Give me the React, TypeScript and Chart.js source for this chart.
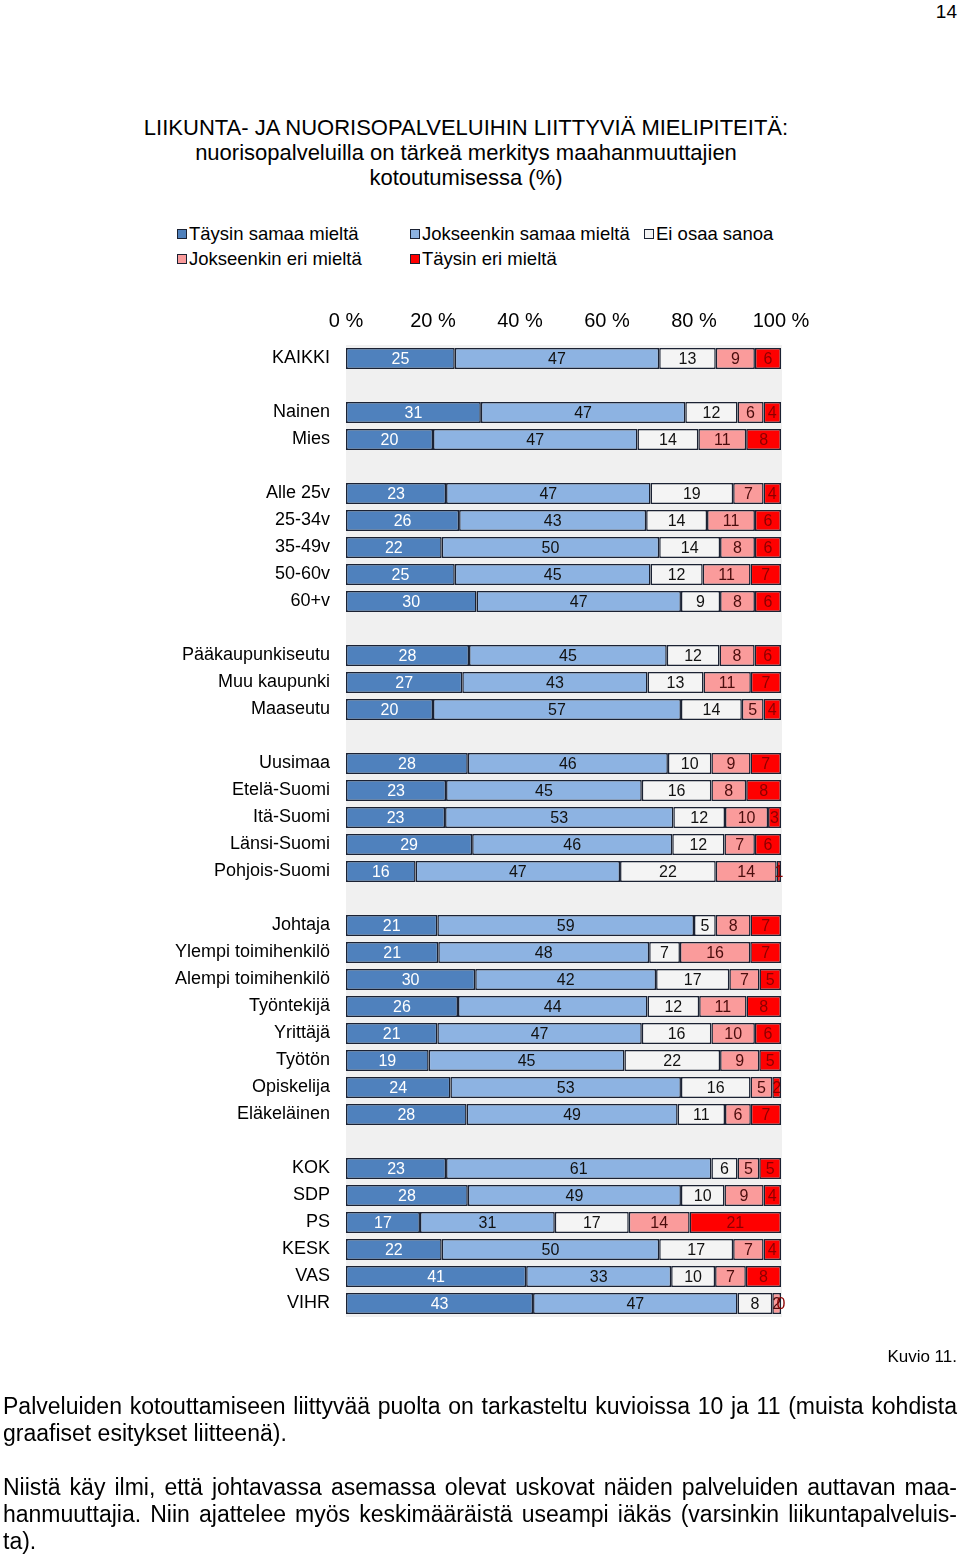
import React, { useEffect, useRef } from 'react';
import { Chart, registerables } from 'chart.js';

Chart.register(...registerables);

const categories = [
  'KAIKKI', '',
  'Nainen', 'Mies', '',
  'Alle 25v', '25-34v', '35-49v', '50-60v', '60+v', '',
  'Pääkaupunkiseutu', 'Muu kaupunki', 'Maaseutu', '',
  'Uusimaa', 'Etelä-Suomi', 'Itä-Suomi', 'Länsi-Suomi', 'Pohjois-Suomi', '',
  'Johtaja', 'Ylempi toimihenkilö', 'Alempi toimihenkilö', 'Työntekijä', 'Yrittäjä', 'Työtön', 'Opiskelija', 'Eläkeläinen', '',
  'KOK', 'SDP', 'PS', 'KESK', 'VAS', 'VIHR',
];

const seriesNames = ['Täysin samaa mieltä', 'Jokseenkin samaa mieltä', 'Ei osaa sanoa', 'Jokseenkin eri mieltä', 'Täysin eri mieltä'];

const taysinSamaa = [25, null, 31, 20, null, 23, 26, 22, 25, 30, null, 28, 27, 20, null, 28, 23, 23, 29, 16, null, 21, 21, 30, 26, 21, 19, 24, 28, null, 23, 28, 17, 22, 41, 43];
const jokseenkinSamaa = [47, null, 47, 47, null, 47, 43, 50, 45, 47, null, 45, 43, 57, null, 46, 45, 53, 46, 47, null, 59, 48, 42, 44, 47, 45, 53, 49, null, 61, 49, 31, 50, 33, 47];
const eiOsaa = [13, null, 12, 14, null, 19, 14, 14, 12, 9, null, 12, 13, 14, null, 10, 16, 12, 12, 22, null, 5, 7, 17, 12, 16, 22, 16, 11, null, 6, 10, 17, 17, 10, 8];
const jokseenkinEri = [9, null, 6, 11, null, 7, 11, 8, 11, 8, null, 8, 11, 5, null, 9, 8, 10, 7, 14, null, 8, 16, 7, 11, 10, 9, 5, 6, null, 5, 9, 14, 7, 7, 2];
const taysinEri = [6, null, 4, 8, null, 4, 6, 6, 7, 6, null, 6, 7, 4, null, 7, 8, 3, 6, 1, null, 7, 7, 5, 8, 6, 5, 2, 7, null, 5, 4, 21, 4, 8, 0];

const xTickValues = [0, 20, 40, 60, 80, 100];

const rawSeries = [taysinSamaa, jokseenkinSamaa, eiOsaa, jokseenkinEri, taysinEri];
const fillColors = ['#4f81bd', '#8db3e2', '#f4f4f4', '#fa9b9b', '#ff0000'];
const labelColors = ['#ffffff', '#111111', '#111111', '#4a0d0d', '#8c0000'];

const FONT = '"Liberation Sans", Arial, Helvetica, sans-serif';

const rowSums = categories.map((_, j) => rawSeries.reduce((s, arr) => s + (arr[j] ?? 0), 0));

const plotBg = {
  id: 'plotBg',
  beforeDraw(chart: any) {
    const { ctx, chartArea: a } = chart;
    ctx.save();
    ctx.fillStyle = '#f0f0f0';
    ctx.fillRect(a.left, a.top, a.right - a.left + 1, a.bottom - a.top);
    ctx.restore();
  },
};

const valueLabels = {
  id: 'valueLabels',
  afterDatasetsDraw(chart: any) {
    const ctx = chart.ctx;
    ctx.save();
    ctx.font = `16px ${FONT}`;
    ctx.textAlign = 'center';
    ctx.textBaseline = 'middle';
    chart.data.datasets.forEach((_ds: any, i: number) => {
      const meta = chart.getDatasetMeta(i);
      meta.data.forEach((el: any, j: number) => {
        const raw = rawSeries[i][j];
        if (raw == null) return;
        const { x, y, base } = el.getProps(['x', 'y', 'base'], true);
        ctx.fillStyle = labelColors[i];
        ctx.fillText(String(raw), (x + base) / 2, y + 1);
      });
    });
    ctx.restore();
  },
};

function StackedChart() {
  const ref = useRef<HTMLCanvasElement | null>(null);
  useEffect(() => {
    if (!ref.current) return;
    const chart = new Chart(ref.current, {
      type: 'bar',
      data: {
        labels: categories,
        datasets: rawSeries.map((arr, i) => ({
          label: seriesNames[i],
          data: arr.map((v, j) => (v == null ? null : (v * 100) / rowSums[j])),
          backgroundColor: fillColors[i],
          borderColor: '#1b2233',
          borderWidth: 1.5,
          borderSkipped: false,
          barPercentage: 0.78,
          categoryPercentage: 1,
        })),
      },
      options: {
        indexAxis: 'y',
        responsive: false,
        animation: false,
        layout: { padding: { top: 301, bottom: 237, left: 0, right: 179 } },
        plugins: { legend: { display: false }, tooltip: { enabled: false }, title: { display: false } },
        scales: {
          x: {
            position: 'top',
            stacked: true,
            min: 0,
            max: 100,
            grid: { display: false, drawTicks: false },
            border: { display: false },
            afterBuildTicks: (s: any) => {
              s.ticks = xTickValues.map((v) => ({ value: v }));
            },
            afterFit: (s: any) => {
              s.height = 44;
            },
            ticks: {
              padding: 12,
              color: '#000',
              font: { size: 20, family: FONT },
              callback: (v: any) => `${v} %`,
            },
          },
          y: {
            stacked: true,
            grid: { display: false, drawTicks: false },
            border: { display: false },
            afterFit: (s: any) => {
              s.width = 346;
            },
            ticks: {
              autoSkip: false,
              padding: 16,
              color: '#000',
              font: { size: 18, family: FONT },
            },
          },
        },
      },
      plugins: [plotBg, valueLabels],
    } as any);
    return () => chart.destroy();
  }, []);
  return (
    <canvas
      ref={ref}
      width={960}
      height={1554}
      style={{ position: 'absolute', left: 0, top: 0, width: 960, height: 1554 }}
    />
  );
}

const titleLines = [
  'LIIKUNTA- JA NUORISOPALVELUIHIN LIITTYVIÄ MIELIPITEITÄ:',
  'nuorisopalveluilla on tärkeä merkitys maahanmuuttajien',
  'kotoutumisessa (%)',
];

const legendLayout = [
  { series: 0, x: 177, y: 234 },
  { series: 1, x: 410, y: 234 },
  { series: 2, x: 644, y: 234 },
  { series: 3, x: 177, y: 259 },
  { series: 4, x: 410, y: 259 },
];

const paragraph1 = [
  'Palveluiden kotouttamiseen liittyvää puolta on tarkasteltu kuvioissa 10 ja 11 (muista kohdista',
  'graafiset esitykset liitteenä).',
];
const paragraph2 = [
  'Niistä käy ilmi, että johtavassa asemassa olevat uskovat näiden palveluiden auttavan maa-',
  'hanmuuttajia. Niin ajattelee myös keskimääräistä useampi iäkäs (varsinkin liikuntapalveluis-',
  'ta).',
];

function TextLine({ text, top, justify }: { text: string; top: number; justify: boolean }) {
  return (
    <div
      style={{
        position: 'absolute',
        left: 3,
        width: 954,
        top: top - 13.5,
        height: 27,
        lineHeight: '27px',
        fontSize: 23,
        fontFamily: FONT,
        color: '#000',
        whiteSpace: 'nowrap',
        textAlign: justify ? 'justify' : 'left',
        textAlignLast: justify ? 'justify' : 'left',
      } as any}
    >
      {text}
    </div>
  );
}

export default function App() {
  return (
    <div>
      <div
        style={{
          position: 'absolute', right: 3, top: 0, height: 24, lineHeight: '24px',
          fontSize: 19, fontFamily: FONT, color: '#000',
        }}
      >
        14
      </div>
      <div
        style={{
          position: 'absolute', left: 116, width: 700, top: 114.5, textAlign: 'center',
          fontSize: 22, lineHeight: '25px', fontFamily: FONT, color: '#000',
        }}
      >
        {titleLines.map((t, i) => (
          <div key={i}>{t}</div>
        ))}
      </div>
      {legendLayout.map((it) => (
        <div
          key={it.series}
          style={{
            position: 'absolute', left: it.x, top: it.y - 11, height: 22, lineHeight: '22px',
            fontSize: 18.5, fontFamily: FONT, color: '#000', whiteSpace: 'nowrap',
            display: 'flex', alignItems: 'center',
          }}
        >
          <span
            style={{
              display: 'inline-block', width: 8, height: 8, background: fillColors[it.series],
              border: '1.5px solid #1b2233', marginRight: 2,
            }}
          />
          <span>{seriesNames[it.series]}</span>
        </div>
      ))}
      <StackedChart />
      <div
        style={{
          position: 'absolute', right: 3, top: 1357 - 11, height: 22, lineHeight: '22px',
          fontSize: 17, fontFamily: FONT, color: '#000',
        }}
      >
        Kuvio 11.
      </div>
      {paragraph1.map((t, i) => (
        <TextLine key={'a' + i} text={t} top={1406 + i * 27} justify={i < paragraph1.length - 1} />
      ))}
      {paragraph2.map((t, i) => (
        <TextLine key={'b' + i} text={t} top={1487 + i * 27} justify={i < paragraph2.length - 1} />
      ))}
    </div>
  );
}
